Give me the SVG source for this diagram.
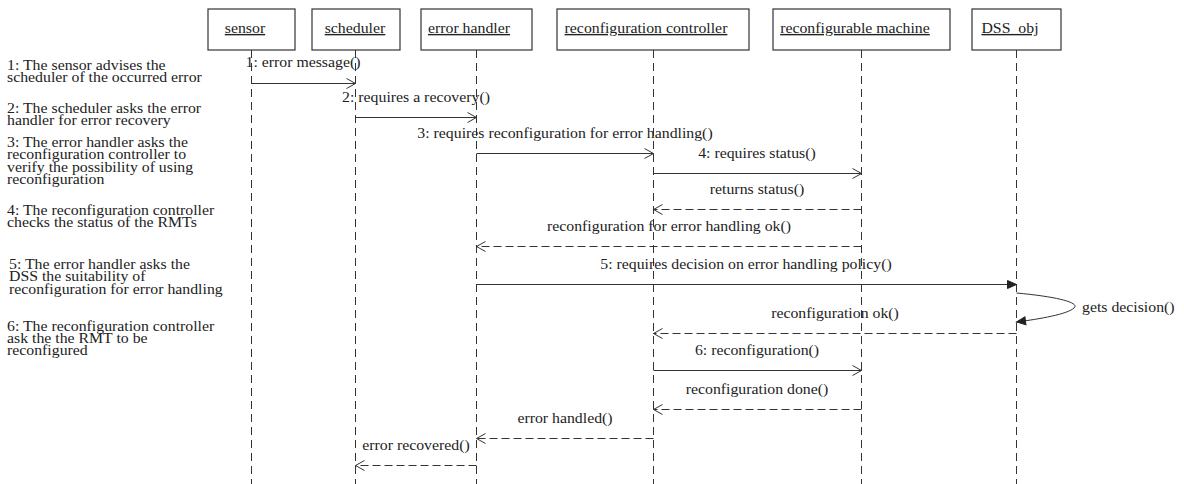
<svg xmlns="http://www.w3.org/2000/svg" width="1184" height="484" viewBox="0 0 1184 484">
<style>
text{font-family:"Liberation Serif","Times New Roman",serif;font-size:14px;fill:#222;transform-box:fill-box;transform-origin:left center;transform:scaleX(1.13)}
.hd{text-decoration:underline}
.box{fill:#fff;stroke:#333;stroke-width:1.2}
.life{stroke:#333;stroke-width:1;stroke-dasharray:8,5;fill:none}
.msg{stroke:#333;stroke-width:1;fill:none;marker-end:url(#open)}
.ret{stroke:#333;stroke-width:1;fill:none;stroke-dasharray:8,4;marker-end:url(#open)}
.sync{stroke:#333;stroke-width:1;fill:none;marker-end:url(#fill)}
.m{text-anchor:middle;transform-origin:center}
</style>
<defs>
<marker id="open" markerWidth="12" markerHeight="12" refX="10" refY="6" orient="auto" markerUnits="userSpaceOnUse">
<path d="M1,1 L10,6 L1,11" fill="none" stroke="#333" stroke-width="1"/>
</marker>
<marker id="fill" markerWidth="12" markerHeight="12" refX="10" refY="6" orient="auto" markerUnits="userSpaceOnUse">
<path d="M1,2 L10,6 L1,10 Z" fill="#222" stroke="#222" stroke-width="1"/>
</marker>
</defs>
<rect width="1184" height="484" fill="#fff"/>

<g id="notes">
<text x="7" y="70">1: The sensor advises the</text>
<text x="7" y="82">scheduler of the occurred error</text>
<text x="7" y="113">2: The scheduler asks the error</text>
<text x="7" y="125">handler for error recovery</text>
<text x="7" y="147">3: The error handler asks the</text>
<text x="7" y="159">reconfiguration controller to</text>
<text x="7" y="172">verify the possibility of using</text>
<text x="7" y="184">reconfiguration</text>
<text x="7" y="215">4: The reconfiguration controller</text>
<text x="7" y="227">checks the status of the RMTs</text>
<text x="9" y="269">5: The error handler asks the</text>
<text x="9" y="281">DSS the suitability of</text>
<text x="9" y="294">reconfiguration for error handling</text>
<text x="7" y="331">6: The reconfiguration controller</text>
<text x="7" y="343">ask the the RMT to be</text>
<text x="7" y="355">reconfigured</text>
</g>

<g id="sensor">
<rect class="box" x="208" y="9" width="87" height="41"/>
<text class="hd m" x="245" y="33">sensor</text>
<line class="life" x1="251.5" y1="50" x2="251.5" y2="484"/>
</g>
<g id="scheduler">
<rect class="box" x="312" y="9" width="88" height="41"/>
<text class="hd m" x="355" y="33">scheduler</text>
<line class="life" x1="355.5" y1="50" x2="355.5" y2="484"/>
</g>
<g id="error_handler">
<rect class="box" x="421" y="9" width="111" height="41"/>
<text class="hd m" x="469" y="33">error handler</text>
<line class="life" x1="476.5" y1="50" x2="476.5" y2="484"/>
</g>
<g id="reconfiguration_controller">
<rect class="box" x="557" y="9" width="192" height="41"/>
<text class="hd m" x="646" y="33">reconfiguration controller</text>
<line class="life" x1="653.5" y1="50" x2="653.5" y2="484"/>
</g>
<g id="reconfigurable_machine">
<rect class="box" x="773" y="9" width="177" height="41"/>
<text class="hd m" x="855" y="33">reconfigurable machine</text>
<line class="life" x1="861.5" y1="50" x2="861.5" y2="484"/>
</g>
<g id="DSS_obj">
<rect class="box" x="972" y="9" width="89" height="41"/>
<text class="hd m" x="1010" y="33">DSS_obj</text>
<line class="life" x1="1016.5" y1="50" x2="1016.5" y2="484"/>
</g>

<g id="connectors">
<line class="msg" x1="251.5" y1="83.5" x2="355.5" y2="83.5"/>
<text class="m" x="303" y="67">1: error message()</text>

<line class="msg" x1="355.5" y1="117.5" x2="476.5" y2="117.5"/>
<text class="m" x="416" y="102">2: requires a recovery()</text>

<line class="msg" x1="476.5" y1="153.5" x2="653.5" y2="153.5"/>
<text class="m" x="565" y="138">3: requires reconfiguration for error handling()</text>

<line class="msg" x1="653.5" y1="173.5" x2="861.5" y2="173.5"/>
<text class="m" x="757" y="158">4: requires status()</text>

<line class="ret" x1="861.5" y1="209.5" x2="653.5" y2="209.5"/>
<text class="m" x="757" y="194">returns status()</text>

<line class="ret" x1="861.5" y1="246.5" x2="476.5" y2="246.5"/>
<text class="m" x="669" y="231">reconfiguration for error handling ok()</text>

<line class="sync" x1="476.5" y1="284.5" x2="1016.5" y2="284.5"/>
<text class="m" x="746" y="269">5: requires decision on error handling policy()</text>

<path class="sync" d="M1016.5,293 C1060,297 1080,303 1074,308 C1068,314 1040,319 1016.5,322"/>
<text x="1082" y="312">gets decision()</text>

<line class="ret" x1="1016.5" y1="333.5" x2="653.5" y2="333.5"/>
<text class="m" x="835" y="318">reconfiguration ok()</text>

<line class="msg" x1="653.5" y1="370.5" x2="861.5" y2="370.5"/>
<text class="m" x="757" y="355">6: reconfiguration()</text>

<line class="ret" x1="861.5" y1="409.5" x2="653.5" y2="409.5"/>
<text class="m" x="757" y="394">reconfiguration done()</text>

<line class="ret" x1="653.5" y1="438.5" x2="476.5" y2="438.5"/>
<text class="m" x="565" y="423">error handled()</text>

<line class="ret" x1="476.5" y1="465.5" x2="355.5" y2="465.5"/>
<text class="m" x="416" y="450">error recovered()</text>
</g>
</svg>
